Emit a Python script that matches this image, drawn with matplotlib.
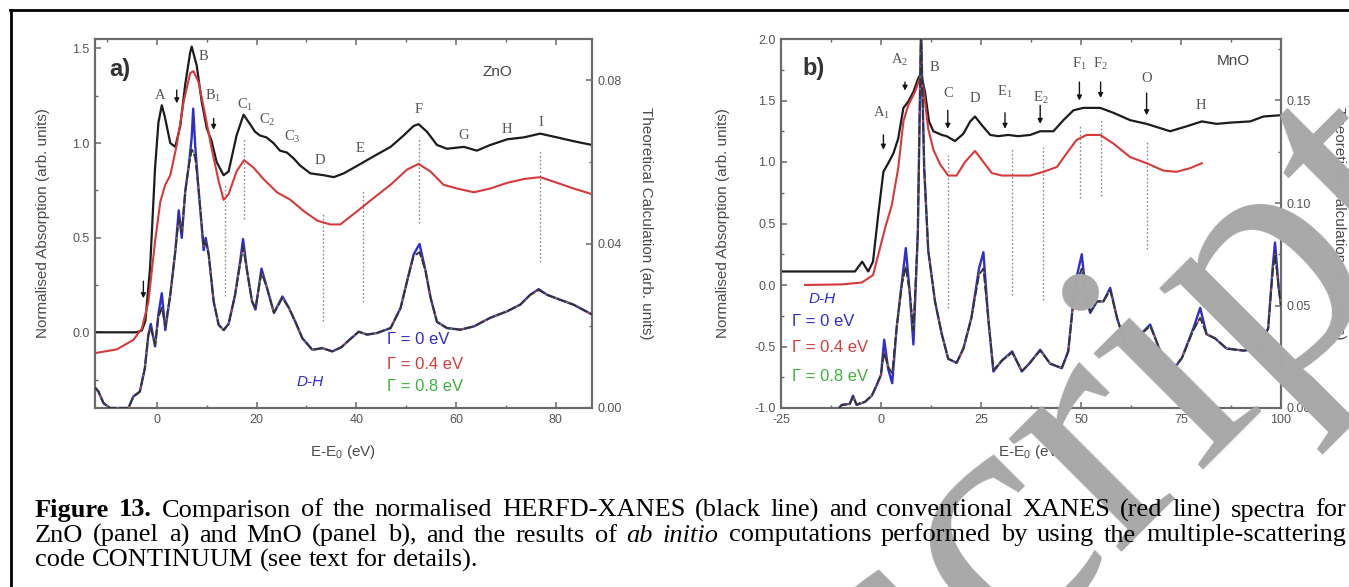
import matplotlib
matplotlib.use('Agg')
import matplotlib.pyplot as plt
from matplotlib.ticker import MultipleLocator, FormatStrFormatter
from matplotlib.lines import Line2D

plt.rcParams['axes.unicode_minus'] = False
plt.rcParams['font.family'] = ['Liberation Sans', 'DejaVu Sans']
plt.rcParams['mathtext.default'] = 'regular'

# ---------------- data: panel a (ZnO) ----------------
a_herfd_x = [-12.4, -4.0, -3.0, -2.3, -1.35, -0.35, 0.33, 1.0, 1.6, 2.7, 3.7, 4.7, 5.7, 6.7, 7.0, 8.0,
             9.0, 10.0, 11.0, 12.0, 13.4, 14.4, 16.0, 17.4, 18.7, 19.7, 20.7, 22.0, 23.4, 24.7, 26.1,
             27.4, 28.8, 30.8, 33.5, 35.5, 37.5, 40.2, 43.5, 46.9, 49.5, 51.5, 52.5, 54.2, 56.2, 58.2,
             61.6, 64.2, 66.9, 70.3, 73.6, 76.9, 80.3, 83.6, 87.3]
a_herfd = [0.0, 0.0, 0.01, 0.06, 0.34, 0.87, 1.11, 1.20, 1.14, 1.0, 0.98, 1.09, 1.31, 1.48, 1.51, 1.41,
           1.22, 1.08, 1.01, 0.90, 0.83, 0.85, 1.04, 1.15, 1.10, 1.06, 1.04, 1.03, 1.0, 0.96, 0.95,
           0.92, 0.88, 0.84, 0.83, 0.82, 0.84, 0.88, 0.93, 0.98, 1.04, 1.09, 1.10, 1.06, 0.99, 0.97,
           0.98, 0.96, 0.99, 1.02, 1.03, 1.05, 1.03, 1.01, 0.99]

a_xanes_x = [-12.4, -8.0, -4.7, -3.0, -1.7, -0.35, 0.7, 1.7, 2.7, 4.0, 5.4, 6.7, 7.35, 8.4, 9.7, 11.0,
             12.4, 13.4, 14.4, 16.0, 17.5, 19.4, 21.4, 24.1, 26.8, 29.5, 32.2, 34.8, 36.8, 40.2, 43.5,
             46.9, 50.2, 52.5, 54.9, 57.5, 60.2, 63.6, 66.9, 70.3, 73.6, 76.9, 80.3, 83.6, 87.3]
a_xanes = [-0.11, -0.09, -0.04, 0.02, 0.16, 0.48, 0.69, 0.78, 0.83, 0.99, 1.22, 1.37, 1.38, 1.32, 1.15, 0.97,
           0.80, 0.70, 0.73, 0.85, 0.91, 0.87, 0.81, 0.74, 0.70, 0.64, 0.59, 0.57, 0.57, 0.64, 0.71,
           0.78, 0.86, 0.89, 0.85, 0.78, 0.76, 0.74, 0.76, 0.79, 0.81, 0.82, 0.79, 0.76, 0.73]

a_th_x = [-12.4, -11.7, -10.7, -9.4, -5.7, -4.7, -3.4, -2.4, -1.7, -1.2, -0.35, 0.3, 1.0, 1.7, 2.7, 3.7,
          4.4, 5.0, 5.7, 6.4, 7.0, 7.3, 7.7, 8.3, 9.4, 9.8, 10.4, 11.4, 12.4, 13.4, 14.4, 15.7, 16.7,
          17.3, 18.1, 19.1, 19.8, 21.0, 22.1, 23.5, 25.2, 26.5, 27.8, 29.2, 31.2, 33.2, 35.2, 37.0,
          38.7, 40.5, 42.2, 44.2, 46.9, 48.9, 50.2, 51.5, 52.7, 53.9, 54.9, 56.2, 58.2, 60.9, 63.6,
          66.9, 70.3, 72.9, 74.9, 76.6, 78.3, 80.9, 83.6, 87.3]
a_th_g0 = [0.0050, 0.0040, 0.0012, 0.0, 0.0, 0.0028, 0.0040, 0.0097, 0.0178, 0.0205, 0.0150, 0.0227,
           0.0280, 0.0190, 0.0276, 0.0381, 0.0482, 0.0415, 0.0528, 0.0590, 0.0660, 0.0730, 0.0640,
           0.0544, 0.0385, 0.0415, 0.0375, 0.0260, 0.0203, 0.0190, 0.0205, 0.0276, 0.0356, 0.0412,
           0.0335, 0.0260, 0.0240, 0.0340, 0.0293, 0.0232, 0.0272, 0.0244, 0.0210, 0.0170, 0.0142,
           0.0146, 0.0138, 0.0148, 0.0167, 0.0186, 0.0179, 0.0183, 0.0195, 0.0244, 0.0309, 0.0374,
           0.0400, 0.0335, 0.0270, 0.0210, 0.0195, 0.0191, 0.0199, 0.0220, 0.0236, 0.0252, 0.0276,
           0.0290, 0.0276, 0.0264, 0.0252, 0.0228]
a_th_broad = [0.0050, 0.0040, 0.0012, 0.0, 0.0, 0.0028, 0.0040, 0.0097, 0.0178, 0.0195, 0.0155, 0.0220,
              0.0245, 0.0200, 0.0276, 0.0381, 0.0460, 0.0430, 0.0528, 0.0590, 0.0630, 0.0625, 0.0610,
              0.0544, 0.0395, 0.0405, 0.0375, 0.0260, 0.0203, 0.0190, 0.0205, 0.0276, 0.0350, 0.0392,
              0.0335, 0.0260, 0.0245, 0.0330, 0.0293, 0.0232, 0.0268, 0.0244, 0.0210, 0.0170, 0.0142,
              0.0146, 0.0138, 0.0148, 0.0167, 0.0186, 0.0179, 0.0183, 0.0195, 0.0244, 0.0309, 0.0370,
              0.0380, 0.0335, 0.0270, 0.0210, 0.0195, 0.0191, 0.0199, 0.0220, 0.0236, 0.0252, 0.0276,
              0.0288, 0.0276, 0.0264, 0.0252, 0.0228]

a_labels = ['A', 'B', 'B$_1$', 'C$_1$', 'C$_2$', 'C$_3$', 'D', 'E', 'F', 'G', 'H', 'I']
a_label_x = [0.7, 9.4, 11.4, 17.7, 22.1, 27.1, 32.8, 40.8, 52.5, 61.6, 70.3, 77.0]
a_label_y = [1.25, 1.46, 1.25, 1.20, 1.12, 1.03, 0.91, 0.97, 1.18, 1.04, 1.07, 1.11]
a_arrow_x = [-2.7, 4.0, 11.4]
a_arrow_top = [0.27, 1.28, 1.13]
a_arrow_bot = [0.18, 1.21, 1.07]
a_vline_x = [13.6, 17.5, 33.3, 41.3, 52.5, 76.8]
a_vline_top = [0.78, 1.02, 0.63, 0.75, 1.03, 0.96]
a_vline_bot = [0.19, 0.60, 0.06, 0.16, 0.58, 0.37]

# ---------------- data: panel b (MnO) ----------------
b_herfd_x = [-25.0, -6.5, -4.7, -3.2, -2.0, -0.7, 0.6, 1.8, 3.1, 4.3, 5.6, 6.8, 8.1, 9.3, 10.0, 11.0,
             12.0, 13.1, 15.2, 16.4, 18.5, 20.6, 22.3, 23.5, 25.2, 27.3, 29.3, 31.8, 34.3, 37.3, 39.8,
             43.1, 45.6, 48.1, 50.6, 54.8, 58.1, 62.3, 66.4, 72.3, 76.4, 80.2, 83.9, 87.3, 92.3, 95.6, 99.8]
b_herfd = [0.11, 0.11, 0.19, 0.11, 0.19, 0.57, 0.92, 0.99, 1.07, 1.19, 1.44, 1.49, 1.57, 1.68, 1.72, 1.57,
           1.33, 1.25, 1.22, 1.21, 1.17, 1.23, 1.33, 1.37, 1.30, 1.22, 1.21, 1.22, 1.21, 1.22, 1.25,
           1.25, 1.34, 1.42, 1.44, 1.44, 1.40, 1.34, 1.31, 1.25, 1.29, 1.33, 1.31, 1.32, 1.33, 1.37, 1.38]

b_xanes_x = [-19.0, -9.8, -4.8, -2.0, -0.25, 1.0, 2.7, 4.3, 5.6, 6.8, 8.5, 9.8, 10.6, 11.8, 13.1, 14.8,
             16.8, 18.9, 21.0, 23.5, 25.6, 27.7, 30.2, 33.5, 37.3, 40.6, 44.0, 46.4, 48.9, 51.4, 54.8,
             58.1, 62.3, 66.4, 70.6, 73.9, 77.3, 80.2]
b_xanes = [0.0, 0.005, 0.02, 0.08, 0.30, 0.46, 0.65, 0.95, 1.33, 1.46, 1.57, 1.69, 1.60, 1.27, 1.10, 0.98,
           0.89, 0.89, 1.00, 1.09, 1.00, 0.91, 0.89, 0.89, 0.89, 0.92, 0.96, 1.07, 1.18, 1.22, 1.22,
           1.15, 1.04, 0.99, 0.93, 0.92, 0.95, 0.99]

b_th_x = [-10.5, -9.8, -7.8, -7.0, -6.1, -4.0, -2.3, -1.1, 0.0, 0.8, 1.8, 2.8, 3.9, 5.2, 6.2, 7.2, 8.1,
          9.2, 10.0, 10.8, 11.8, 13.5, 15.2, 16.8, 18.9, 20.6, 22.6, 24.5, 25.6, 26.8, 28.1, 30.2,
          32.8, 35.2, 37.0, 39.8, 42.3, 45.2, 46.8, 48.5, 50.2, 51.3, 52.3, 54.0, 55.6, 57.3, 59.0,
          61.4, 63.9, 67.3, 69.8, 72.7, 75.2, 78.1, 79.8, 81.4, 83.5, 86.4, 90.6, 94.8, 96.8, 97.9,
          98.5, 99.4, 100.0]
b_th_g0 = [0.0, 0.0015, 0.0020, 0.0060, 0.0015, 0.0030, 0.0060, 0.0110, 0.0161, 0.0333, 0.0190, 0.0121,
           0.0390, 0.0610, 0.0780, 0.0560, 0.0310, 0.0850, 0.1850, 0.1170, 0.0770, 0.0520, 0.0360,
           0.0240, 0.0220, 0.0290, 0.0440, 0.0680, 0.0760, 0.0440, 0.0178, 0.0231, 0.0276, 0.0178,
           0.0215, 0.0284, 0.0216, 0.0194, 0.0276, 0.0603, 0.0750, 0.0540, 0.0464, 0.0520, 0.0520,
           0.0586, 0.0440, 0.0290, 0.0340, 0.0407, 0.0276, 0.0178, 0.0243, 0.0389, 0.0488, 0.0360,
           0.0340, 0.0290, 0.0280, 0.0290, 0.0390, 0.0680, 0.0807, 0.0590, 0.0500]
b_th_broad = [0.0, 0.0015, 0.0020, 0.0055, 0.0018, 0.0030, 0.0060, 0.0110, 0.0165, 0.0270, 0.0200, 0.0170,
              0.0390, 0.0600, 0.0690, 0.0560, 0.0380, 0.0850, 0.1850, 0.1170, 0.0770, 0.0520, 0.0360,
              0.0240, 0.0220, 0.0290, 0.0440, 0.0650, 0.0680, 0.0440, 0.0185, 0.0231, 0.0270, 0.0180,
              0.0215, 0.0280, 0.0216, 0.0196, 0.0276, 0.0590, 0.0680, 0.0540, 0.0470, 0.0520, 0.0520,
              0.0575, 0.0440, 0.0295, 0.0340, 0.0400, 0.0280, 0.0185, 0.0243, 0.0380, 0.0440, 0.0360,
              0.0340, 0.0290, 0.0280, 0.0290, 0.0390, 0.0660, 0.0750, 0.0590, 0.0500]

b_labels = ['A$_1$', 'A$_2$', 'B', 'C', 'D', 'E$_1$', 'E$_2$', 'F$_1$', 'F$_2$', 'O', 'H']
b_label_x = [0.2, 4.75, 13.3, 16.7, 23.5, 31.0, 40.0, 49.6, 54.9, 66.4, 79.9]
b_label_y = [1.40, 1.83, 1.77, 1.56, 1.52, 1.57, 1.52, 1.80, 1.80, 1.68, 1.46]
b_arrow_x = [0.6, 6.0, 16.7, 31.0, 39.8, 49.6, 54.9, 66.4]
b_arrow_top = [1.22, 1.65, 1.42, 1.40, 1.46, 1.65, 1.65, 1.56]
b_arrow_bot = [1.10, 1.58, 1.27, 1.27, 1.31, 1.50, 1.52, 1.38]
b_vline_x = [16.8, 32.8, 40.4, 49.7, 54.9, 66.4]
b_vline_top = [1.06, 1.11, 1.12, 1.29, 1.36, 1.17]
b_vline_bot = [-0.19, -0.08, -0.12, 0.71, 0.72, 0.29]

legend_texts = ['\u0393 = 0 eV', '\u0393 = 0.4 eV', '\u0393 = 0.8 eV']

caption_lines = [
    "Figure 13. Comparison of the normalised HERFD-XANES (black line) and conventional XANES (red line) spectra for",
    "ZnO (panel a) and MnO (panel b), and the results of ab initio computations performed by using the multiple-scattering",
    "code CONTINUUM (see text for details).",
]

# ---------------- figure ----------------
W, H = 1349, 587
fig = plt.figure(figsize=(W / 100, H / 100), dpi=100)
fig.patch.set_facecolor('white')


def fx(px):
    return px / W


def fy(py):
    return 1 - py / H


BLACK = '#1c1c1c'
RED = '#d83a3a'
BLUE = '#2d2dd2'
GREEN = '#3cb43c'
SPINE = '#6a6a6a'
TXT = '#4a4a4a'


def style(ax, tw):
    for s in list(ax.spines.values()) + list(tw.spines.values()):
        s.set_color(SPINE)
        s.set_linewidth(1.5)
    ax.tick_params(which='both', direction='in', colors=SPINE, labelcolor='#555555', labelsize=9,
                   top=True, bottom=True, left=True, right=False, pad=4)
    ax.tick_params(which='major', length=4.5, width=1.1)
    ax.tick_params(which='minor', length=2.5, width=1.0)
    tw.tick_params(which='both', direction='in', colors=SPINE, labelcolor='#555555', labelsize=9,
                   right=True, left=False, pad=4)
    tw.tick_params(which='major', length=4.5, width=1.1)
    tw.tick_params(which='minor', length=2.5, width=1.0)


def panel(ax, hx, hy, xx, xy, tx, tg0, tbr, xlim, ylim, rlim, xmaj, ymaj, rmaj, rfmt,
          labels, lx, ly, arx, art, arb, vx, vt, vb, left_px, right_px, width_px):
    ax.plot(hx, hy, color=BLACK, lw=1.6, zorder=3)
    ax.plot(xx, xy, color=RED, lw=1.5, zorder=3)
    ax.set_xlim(*xlim)
    ax.set_ylim(*ylim)
    tw = ax.twinx()
    tw.plot(tx, tg0, color=BLUE, lw=1.7, zorder=2)
    tw.plot(tx, tbr, color=RED, lw=1.0, ls='--', zorder=3)
    tw.plot(tx, tbr, color=GREEN, lw=1.0, ls=':', zorder=3)
    tw.plot(tx, tbr, color='#333333', lw=1.3, ls=(0, (5, 1.5)), zorder=4)
    tw.set_ylim(*rlim)
    ax.xaxis.set_major_locator(MultipleLocator(xmaj))
    ax.xaxis.set_minor_locator(MultipleLocator(xmaj / 2))
    ax.yaxis.set_major_locator(MultipleLocator(ymaj))
    ax.yaxis.set_minor_locator(MultipleLocator(ymaj / 2))
    ax.yaxis.set_major_formatter(FormatStrFormatter('%.1f'))
    tw.yaxis.set_major_locator(MultipleLocator(rmaj))
    tw.yaxis.set_minor_locator(MultipleLocator(rmaj / 2))
    tw.yaxis.set_major_formatter(FormatStrFormatter(rfmt))
    style(ax, tw)
    for x, t, b in zip(vx, vt, vb):
        ax.plot([x, x], [b, t], color='#8a8a9a', lw=1.0, ls=(0, (1.2, 1.6)), zorder=2)
    for s, x, y in zip(labels, lx, ly):
        ax.text(x, y, s, family='Liberation Serif', fontsize=10.5, color='#555555',
                ha='center', va='center', zorder=6)
    for x, t, b in zip(arx, art, arb):
        ax.annotate('', xy=(x, b), xytext=(x, t),
                    arrowprops=dict(arrowstyle='-|>', color='#151515', lw=1.0,
                                    mutation_scale=7, shrinkA=0, shrinkB=0), zorder=6)
    ax.set_ylabel('Normalised Absorption (arb. units)', fontsize=11, color=TXT, va='center')
    ax.yaxis.set_label_coords((left_px) / width_px, 0.5)
    tw.set_ylabel('Theoretical Calculation (arb. units)', fontsize=11, color=TXT,
                  rotation=270, va='center')
    tw.yaxis.set_label_coords((right_px) / width_px, 0.5)
    ax.set_xlabel('E-E$_0$ (eV)', fontsize=11, color=TXT, va='center')
    ax.xaxis.set_label_coords(0.5, -(452 - 408) / 369)
    return tw


axA = fig.add_axes([fx(95), fy(408), (592 - 95) / W, (408 - 39) / H])
twA = panel(axA, a_herfd_x, a_herfd, a_xanes_x, a_xanes, a_th_x, a_th_g0, a_th_broad,
            (-12.4, 87.3), (-0.4, 1.55), (0, 0.09), 20, 0.5, 0.04, '%.2f',
            a_labels, a_label_x, a_label_y, a_arrow_x, a_arrow_top, a_arrow_bot,
            a_vline_x, a_vline_top, a_vline_bot, 43 - 95, 646 - 95, 497)
axA.text(-7.4, 1.39, 'a)', fontsize=17, fontweight='bold', color='#333333', ha='center', va='center')
axA.text(68.3, 1.375, 'ZnO', fontsize=11, color='#444444', ha='center', va='center')
axA.text(30.8, -0.26, 'D-H', fontsize=11, style='italic', color=BLUE, ha='center', va='center')
for t, y, c in zip(legend_texts, [-0.04, -0.17, -0.285], [BLUE, RED, GREEN]):
    axA.text(46.2, y, t, fontsize=12, color=c, ha='left', va='center')

axB = fig.add_axes([fx(781), fy(408), (1281 - 781) / W, (408 - 39) / H])
twB = panel(axB, b_herfd_x, b_herfd, b_xanes_x, b_xanes, b_th_x, b_th_g0, b_th_broad,
            (-25, 100), (-1.0, 2.0), (0, 0.18), 25, 0.5, 0.05, '%.2f',
            b_labels, b_label_x, b_label_y, b_arrow_x, b_arrow_top, b_arrow_bot,
            b_vline_x, b_vline_top, b_vline_bot, 723 - 781, 1339 - 781, 500)
axB.text(-16.9, 1.76, 'b)', fontsize=17, fontweight='bold', color='#333333', ha='center', va='center')
axB.text(88.1, 1.82, 'MnO', fontsize=11, color='#444444', ha='center', va='center')
axB.text(-14.8, -0.11, 'D-H', fontsize=11, style='italic', color=BLUE, ha='center', va='center')
for t, y, c in zip(legend_texts, [-0.30, -0.51, -0.745], [BLUE, RED, GREEN]):
    axB.text(-22.3, y, t, fontsize=12, color=c, ha='left', va='center')

# page frame
fig.add_artist(Line2D([fx(10.5), fx(10.5)], [fy(9.5), 0], transform=fig.transFigure, color='black', lw=2.0))
fig.add_artist(Line2D([fx(9.5), 1], [fy(10), fy(10)], transform=fig.transFigure, color='black', lw=2.0))

# watermark
fig.text(fx(1122), fy(418), 'script', family='Liberation Serif', fontsize=250, color='#a8a8a8',
         rotation=45, rotation_mode='anchor', ha='center', va='center', zorder=20)

# caption with justified lines
renderer = fig.canvas.get_renderer()
CAP = dict(family='Liberation Serif', fontsize=19, color='black')


def measure(s, **kw):
    t = fig.text(0, 0, s, **kw)
    w = t.get_window_extent(renderer).width
    t.remove()
    return w


space_w = measure('a a', **CAP) - measure('aa', **CAP)
x0, x1 = 35, 1346
baselines = [516.5, 541.5, 566.5]
for li, line in enumerate(caption_lines):
    words = line.split(' ')
    kws = []
    for wi, w in enumerate(words):
        kw = dict(CAP)
        if li == 0 and wi < 2:
            kw['fontweight'] = 'bold'
        if li == 1 and w in ('ab', 'initio'):
            kw['style'] = 'italic'
        kws.append(kw)
    widths = [measure(w, **k) for w, k in zip(words, kws)]
    if li < 2:
        gap = (x1 - x0 - sum(widths)) / (len(words) - 1)
    else:
        gap = space_w
    x = x0
    for w, k, wd in zip(words, kws, widths):
        fig.text(fx(x), fy(baselines[li]), w, ha='left', va='baseline', zorder=30, **k)
        x += wd + gap

fig.savefig('out.png', dpi=100, facecolor='white')
